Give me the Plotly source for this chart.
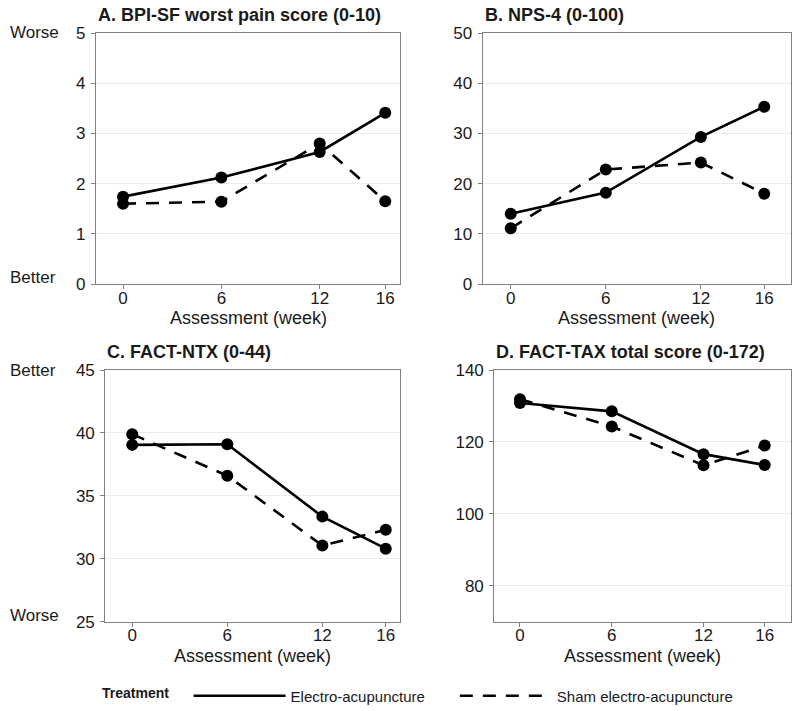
import plotly.graph_objects as go

# ---------------- data ----------------
weeks = [0, 6, 12, 16]
week_labels = ["0", "6", "12", "16"]

bpi_ea = [1.74, 2.12, 2.63, 3.41]
bpi_sham = [1.60, 1.64, 2.80, 1.65]

nps_ea = [14.0, 18.2, 29.3, 35.3]
nps_sham = [11.1, 22.8, 24.2, 18.0]

ntx_ea = [39.05, 39.1, 33.35, 30.8]
ntx_sham = [39.9, 36.6, 31.05, 32.3]

tax_ea = [130.8, 128.5, 116.6, 113.6]
tax_sham = [131.9, 124.3, 113.5, 119.0]

series_names = ["Electro-acupuncture", "Sham electro-acupuncture"]

titles = ["A. BPI-SF worst pain score (0-10)", "B. NPS-4 (0-100)",
          "C. FACT-NTX (0-44)", "D. FACT-TAX total score (0-172)"]
yticks_a = [0, 1, 2, 3, 4, 5]
yticks_b = [0, 10, 20, 30, 40, 50]
yticks_c = [25, 30, 35, 40, 45]
yticks_d = [80, 100, 120, 140]

# ---------------- layout geometry ----------------
W, H = 800, 711
FONT = "Liberation Sans, Arial, sans-serif"
GREY = "#7f7f7f"
TXT = "#1a1a1a"

def px_x(a, b):
    return [a / W, b / W]

def px_y(top, bottom):
    return [1 - bottom / H, 1 - top / H]

panels = [
    dict(ea=bpi_ea, sham=bpi_sham, title=titles[0], yr=[0, 5], yt=yticks_a,
         xr=[-1.65, 16.9], xd=px_x(96, 400), yd=px_y(33, 284),
         top="Worse", bottom="Better"),
    dict(ea=nps_ea, sham=nps_sham, title=titles[1], yr=[0, 50], yt=yticks_b,
         xr=[-1.77, 17.67], xd=px_x(482.7, 790.7), yd=px_y(33, 284),
         top=None, bottom=None),
    dict(ea=ntx_ea, sham=ntx_sham, title=titles[2], yr=[25, 45], yt=yticks_c,
         xr=[-1.7, 16.9], xd=px_x(105.3, 400), yd=px_y(370, 621.7),
         top="Better", bottom="Worse"),
    dict(ea=tax_ea, sham=tax_sham, title=titles[3], yr=[70, 140], yt=yticks_d,
         xr=[-1.68, 17.7], xd=px_x(494.3, 790.7), yd=px_y(370, 621.7),
         top=None, bottom=None),
]

fig = go.Figure()
annotations = []
DASH = "13px,10px"
legend_labels = [series_names[0] + "\u00a0" * 6, series_names[1]]

for i, p in enumerate(panels):
    n = "" if i == 0 else str(i + 1)
    xa, ya = "x" + n, "y" + n
    for name, lab, vals, dash in [(series_names[0], legend_labels[0], p["ea"], "solid"),
                                  (series_names[1], legend_labels[1], p["sham"], DASH)]:
        fig.add_trace(go.Scatter(
            x=weeks, y=vals, mode="lines", name=lab, legendgroup=name,
            showlegend=(i == 0), xaxis=xa, yaxis=ya,
            line=dict(color="black", width=2.6, dash=dash),
            hoverinfo="skip"))
    for name, vals in [(series_names[0], p["ea"]), (series_names[1], p["sham"])]:
        fig.add_trace(go.Scatter(
            x=weeks, y=vals, mode="markers", name=name, legendgroup=name,
            showlegend=False, xaxis=xa, yaxis=ya,
            marker=dict(color="black", size=12)))

    axis_common = dict(showline=True, linecolor=GREY, linewidth=1.2, mirror=True,
                       ticks="outside", ticklen=4, tickcolor=GREY, tickwidth=1.2,
                       zeroline=False, automargin=False,
                       tickfont=dict(family=FONT, size=17, color=TXT))
    fig.update_layout(**{
        "xaxis" + n: dict(domain=p["xd"], range=p["xr"], tickvals=weeks,
                          ticktext=week_labels, showgrid=False, anchor=ya,
                          ticklabelstandoff=-6, **axis_common),
        "yaxis" + n: dict(domain=p["yd"], range=p["yr"], tickvals=p["yt"],
                          showgrid=True, gridcolor="#ebebeb", gridwidth=1,
                          anchor=xa, ticklabelstandoff=2, **axis_common),
    })

    # panel title
    annotations.append(dict(text="<b>" + p["title"] + "</b>", xref=xa + " domain",
                            yref=ya + " domain", x=0, y=1, xanchor="left",
                            yanchor="middle", yshift=18, showarrow=False,
                            font=dict(family=FONT, size=18, color=TXT)))
    # x axis title
    annotations.append(dict(text="Assessment (week)", xref=xa + " domain",
                            yref=ya + " domain", x=0.5, y=0, xanchor="center",
                            yanchor="middle", yshift=-34, showarrow=False,
                            font=dict(family=FONT, size=18, color=TXT)))
    if p["top"]:
        annotations.append(dict(text=p["top"], xref="paper", yref=ya + " domain",
                                x=8 / W, y=1, xanchor="left", yanchor="middle",
                                showarrow=False,
                                font=dict(family=FONT, size=17, color=TXT)))
        annotations.append(dict(text=p["bottom"], xref="paper", yref=ya + " domain",
                                x=8 / W, y=0, xanchor="left", yanchor="middle",
                                yshift=6, showarrow=False,
                                font=dict(family=FONT, size=17, color=TXT)))

fig.update_layout(
    width=W, height=H, autosize=False,
    margin=dict(l=0, r=0, t=0, b=0, autoexpand=False),
    paper_bgcolor="white", plot_bgcolor="white",
    font=dict(family=FONT, color=TXT),
    annotations=annotations,
    legend=dict(orientation="h", x=100 / W, xanchor="left",
                y=1 - 696 / H, yanchor="middle",
                title=dict(text="<b>Treatment</b>\u00a0\u00a0\u00a0", side="left",
                           font=dict(family=FONT, size=14, color=TXT)),
                font=dict(family=FONT, size=15, color=TXT),
                itemwidth=92, bgcolor="rgba(0,0,0,0)"),
)

fig.write_html("out.html", config={"displayModeBar": False},
               post_script="document.body.style.margin='0';document.body.style.overflow='hidden';")
